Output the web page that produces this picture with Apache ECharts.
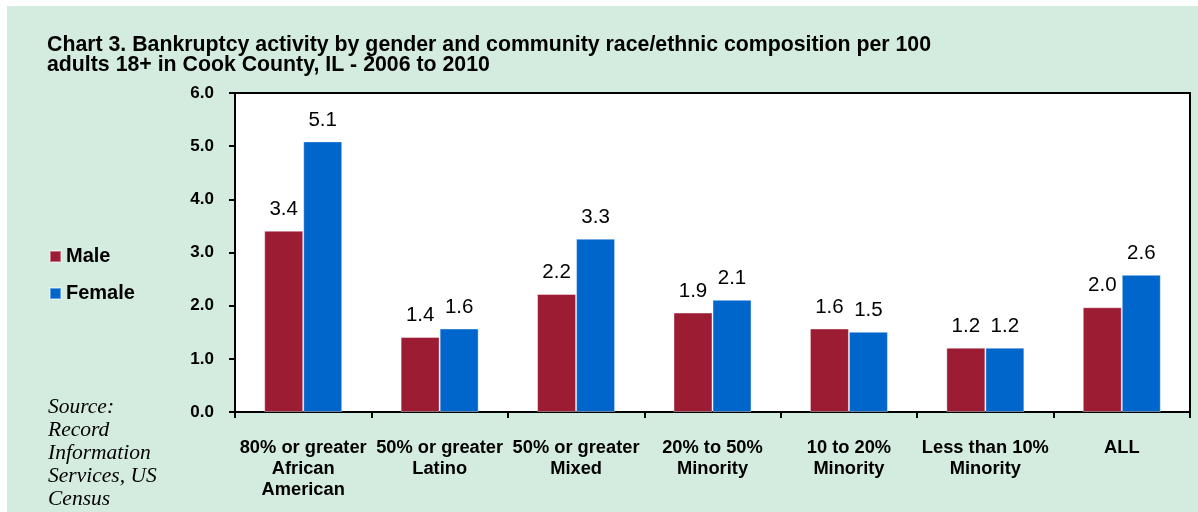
<!DOCTYPE html>
<html>
<head>
<meta charset="utf-8">
<script src="https://cdn.jsdelivr.net/npm/echarts@6/dist/echarts.min.js"></script>
<style>
html,body{margin:0;padding:0;background:#ffffff;}
#c{width:1198px;height:512px;}
</style>
</head>
<body>
<div id="c"></div>
<script>
var categories = ['80% or greater\nAfrican\nAmerican', '50% or greater\nLatino', '50% or greater\nMixed', '20% to 50%\nMinority', '10 to 20%\nMinority', 'Less than 10%\nMinority', 'ALL'];
var maleValues = [3.41, 1.41, 2.22, 1.87, 1.57, 1.21, 1.97];
var femaleValues = [5.09, 1.57, 3.26, 2.11, 1.51, 1.21, 2.58];
var yTicks = [0, 1, 2, 3, 4, 5, 6];

var chart = echarts.init(document.getElementById('c'));
var labelStyle = {
  show: true, position: 'top', distance: 11,
  fontFamily: 'Liberation Sans, Arial, sans-serif', fontSize: 20.5, color: '#000',
  formatter: function (p) { return p.value.toFixed(1); }
};
chart.setOption({
  animation: false,
  backgroundColor: '#ffffff',
  graphic: [
    { type: 'rect', z: -10, shape: { x: 7, y: 6, width: 1191, height: 506 }, style: { fill: '#d4ecdf' } },
    { type: 'text', left: 48, top: 396, style: {
      text: 'Source:\nRecord\nInformation\nServices, US\nCensus',
      fontFamily: 'Liberation Serif, Times New Roman, serif', fontStyle: 'italic', fontSize: 21.5,
      lineHeight: 23, fill: '#000' } }
  ],
  title: {
    text: 'Chart 3. Bankruptcy activity by gender and community race/ethnic composition per 100\nadults 18+ in Cook County, IL - 2006 to 2010',
    left: 42, top: 30, padding: [5, 5],
    textStyle: { fontFamily: 'Liberation Sans, Arial, sans-serif', fontWeight: 'bold', fontSize: 21.3, lineHeight: 20, color: '#000' }
  },
  legend: {
    orient: 'vertical', left: 44, top: 240, itemWidth: 11, itemHeight: 11, itemGap: 14,
    icon: 'rect',
    textStyle: { fontFamily: 'Liberation Sans, Arial, sans-serif', fontWeight: 'bold', fontSize: 20, lineHeight: 23, color: '#000' },
    data: ['Male', 'Female']
  },
  grid: { left: 235, right: 8, top: 93, bottom: 100, show: true, backgroundColor: '#ffffff', borderColor: '#000', borderWidth: 2 },
  xAxis: {
    type: 'category', data: categories,
    axisLine: { lineStyle: { color: '#000', width: 2 } },
    axisTick: { show: true, length: 6, inside: false, lineStyle: { color: '#000', width: 2 } },
    axisLabel: { interval: 0, margin: 25, fontFamily: 'Liberation Sans, Arial, sans-serif', fontWeight: 'bold', fontSize: 18.3, lineHeight: 21, color: '#000' }
  },
  yAxis: {
    type: 'value', min: 0, max: 6, interval: 1,
    axisLine: { show: true, lineStyle: { color: '#000', width: 2 } },
    axisTick: { show: true, length: 6, lineStyle: { color: '#000', width: 2 } },
    splitLine: { show: false },
    axisLabel: { margin: 21, fontFamily: 'Liberation Sans, Arial, sans-serif', fontWeight: 'bold', fontSize: 17, color: '#000',
      formatter: function (v) { return yTicks.indexOf(v) >= 0 ? v.toFixed(1) : ''; } }
  },
  series: [
    { name: 'Male', type: 'bar', data: maleValues, barWidth: 39, barGap: '0%',
      itemStyle: { color: '#9c1c34', borderColor: 'rgba(255,255,255,0.4)', borderWidth: 1 }, label: labelStyle },
    { name: 'Female', type: 'bar', data: femaleValues, barWidth: 39, barGap: '0%',
      itemStyle: { color: '#0066cc', borderColor: 'rgba(255,255,255,0.4)', borderWidth: 1 }, label: labelStyle }
  ]
});
</script>
</body>
</html>
